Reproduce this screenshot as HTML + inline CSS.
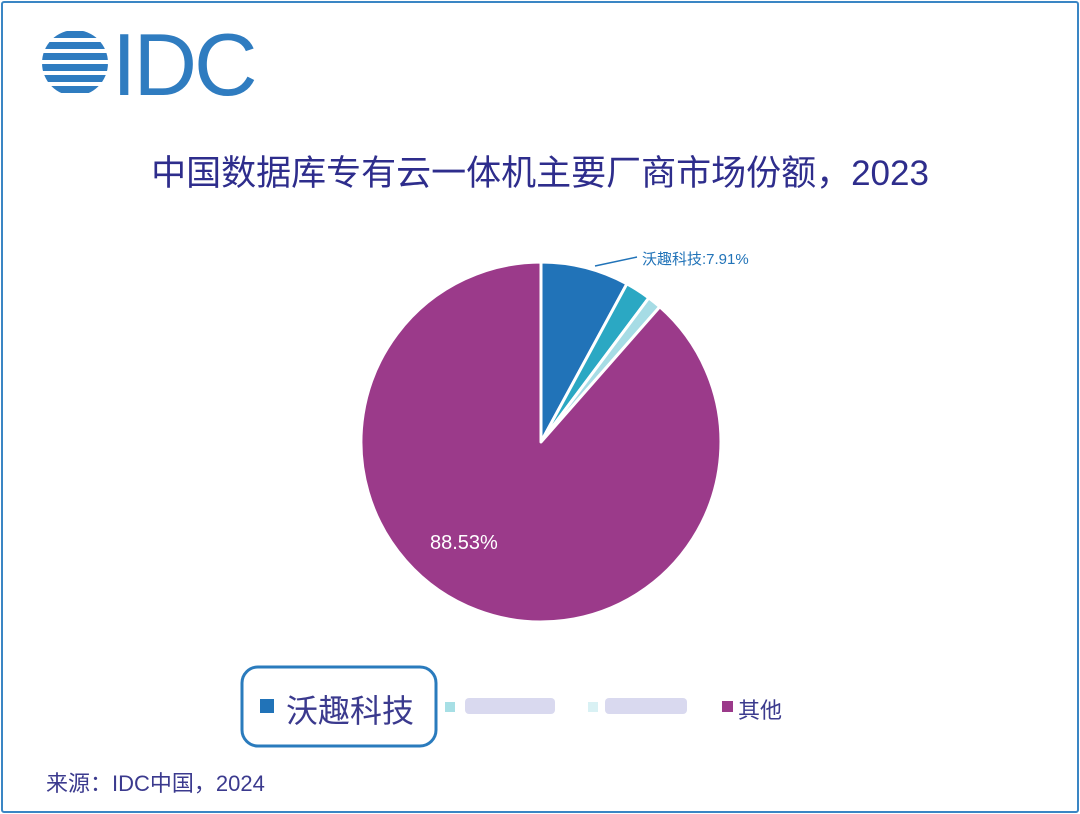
<!DOCTYPE html>
<html><head><meta charset="utf-8"><style>
body{margin:0;background:#fff;}
#c{position:relative;width:1080px;height:814px;overflow:hidden;font-family:"Liberation Sans","Noto Sans CJK SC",sans-serif;}
.frame{position:absolute;left:1px;top:1px;width:1074px;height:808px;border:2px solid #3a86c4;border-radius:3px;}
.t{position:absolute;white-space:nowrap;}
</style></head><body><div id="c">
<div class="frame"></div>
<svg width="1080" height="814" style="position:absolute;left:0;top:0">
  <defs><clipPath id="g"><circle cx="75" cy="63" r="33"/></clipPath></defs>
  <g clip-path="url(#g)" fill="#2f7cc0">
    <rect x="40" y="31" width="70" height="7" rx="3"/>
    <rect x="40" y="42" width="70" height="7" rx="3"/>
    <rect x="40" y="53" width="70" height="7" rx="3"/>
    <rect x="40" y="64" width="70" height="7" rx="3"/>
    <rect x="40" y="75" width="70" height="7" rx="3"/>
    <rect x="40" y="86" width="70" height="7" rx="3"/>
  </g>
  <text x="112" y="95" font-family="Liberation Sans" font-size="88" fill="#2f7cc0" letter-spacing="-3">IDC</text>
  <g stroke="#fff" stroke-width="3" stroke-linejoin="round">
    <path d="M541,442 L541,262 A180,180 0 0 1 626.9,283.8 Z" fill="#2173b8"/>
    <path d="M541,442 L626.9,283.8 A180,180 0 0 1 648.8,297.9 Z" fill="#2ba8c3"/>
    <path d="M541,442 L648.8,297.9 A180,180 0 0 1 659.8,306.8 Z" fill="#a6dce5"/>
    <path d="M541,442 L659.8,306.8 A180,180 0 1 1 541,262 Z" fill="#9b3a8a"/>
  </g>
  <line x1="595" y1="266" x2="637" y2="257" stroke="#2173b8" stroke-width="1.5"/>
  <rect x="242" y="667" width="194" height="79" rx="16" fill="none" stroke="#2a7bbd" stroke-width="3"/>
  <rect x="260" y="699" width="14" height="14" fill="#2173b8"/>
  <rect x="445" y="702" width="10" height="10" fill="#6cc9d4" opacity=".6"/>
  <rect x="465" y="698" width="90" height="16" fill="#b4b4e0" opacity=".5" rx="4"/>
  <rect x="588" y="702" width="10" height="10" fill="#bfe8ec" opacity=".6"/>
  <rect x="605" y="698" width="82" height="16" fill="#b4b4e0" opacity=".5" rx="4"/>
  <rect x="722" y="701" width="11" height="11" fill="#9b3a8a"/>
</svg>
<div class="t" style="left:0;width:1080px;text-align:center;top:145px;font-size:35px;color:#2e2d8c;">中国数据库专有云一体机主要厂商市场份额，2023</div>
<div class="t" style="left:642px;top:248px;font-size:15px;color:#2173b8;">沃趣科技:7.91%</div>
<div class="t" style="left:430px;top:532px;font-size:20px;color:#fff;">88.53%</div>
<div class="t" style="left:286px;top:686px;font-size:32px;color:#3b3a8e;">沃趣科技</div>
<div class="t" style="left:738px;top:693px;font-size:22px;color:#3b3a8e;">其他</div>
<div class="t" style="left:46px;top:766px;font-size:22px;color:#3b3a8e;">来源：IDC中国，2024</div>
</div></body></html>
